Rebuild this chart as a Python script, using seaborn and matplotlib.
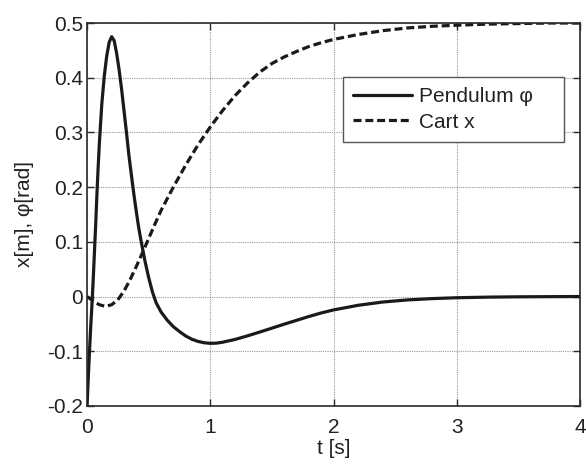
import numpy as np
import pandas as pd
import matplotlib
matplotlib.use("Agg")
import matplotlib.pyplot as plt
import seaborn as sns
from matplotlib.ticker import FixedLocator, FixedFormatter

# ---- data ----
t_pend = [0.00, 0.01, 0.02, 0.03, 0.04, 0.05, 0.06, 0.07, 0.08, 0.09, 0.10, 0.12, 0.14,
          0.16, 0.18, 0.20, 0.22, 0.24, 0.26, 0.28, 0.30, 0.32, 0.34, 0.36, 0.38, 0.40,
          0.42, 0.44, 0.47, 0.50, 0.53, 0.56, 0.60, 0.65, 0.70, 0.75, 0.80, 0.85, 0.90,
          0.95, 1.00, 1.05, 1.10, 1.20, 1.30, 1.40, 1.50, 1.60, 1.70, 1.80, 1.90, 2.00,
          2.20, 2.40, 2.60, 2.80, 3.00, 3.25, 3.50, 3.75, 4.00]
phi = [-0.200, -0.150, -0.100, -0.055, -0.015, 0.030, 0.080, 0.130, 0.185, 0.235, 0.280,
       0.352, 0.403, 0.440, 0.465, 0.475, 0.468, 0.445, 0.415, 0.380, 0.340, 0.300, 0.258,
       0.222, 0.187, 0.155, 0.125, 0.100, 0.065, 0.035, 0.009, -0.011, -0.028, -0.043,
       -0.055, -0.064, -0.072, -0.078, -0.082, -0.0845, -0.0855, -0.0852, -0.0835,
       -0.0785, -0.0720, -0.0650, -0.0578, -0.0505, -0.0435, -0.0365, -0.0300, -0.0245,
       -0.0160, -0.0100, -0.0062, -0.0038, -0.0022, -0.0011, -0.0005, -0.0002, 0.000]

t_cart = [0.00, 0.05, 0.10, 0.15, 0.20, 0.25, 0.30, 0.35, 0.40, 0.45, 0.50, 0.55, 0.60,
          0.70, 0.80, 0.90, 1.00, 1.10, 1.20, 1.30, 1.40, 1.50, 1.60, 1.70, 1.80, 1.90,
          2.00, 2.20, 2.40, 2.60, 2.80, 3.00, 3.25, 3.50, 3.75, 4.00]
cart_x = [0.000, -0.008, -0.015, -0.018, -0.015, -0.006, 0.010, 0.031, 0.055, 0.080,
          0.106, 0.132, 0.157, 0.200, 0.240, 0.277, 0.310, 0.340, 0.367, 0.390, 0.410,
          0.426, 0.438, 0.448, 0.457, 0.464, 0.470, 0.479, 0.486, 0.491, 0.494, 0.496,
          0.498, 0.499, 0.500, 0.500]

series_labels = ["Pendulum \u03c6", "Cart x"]
x_ticks = [0, 1, 2, 3, 4]
x_tick_labels = ["0", "1", "2", "3", "4"]
y_ticks = [-0.2, -0.1, 0.0, 0.1, 0.2, 0.3, 0.4, 0.5]
y_tick_labels = ["-0.2", "-0.1", "0", "0.1", "0.2", "0.3", "0.4", "0.5"]
x_label = "t [s]"
y_label = "x[m], \u03c6[rad]"

# ---- plot ----
sns.set_theme(style="white")
plt.rcParams["font.family"] = ["Liberation Sans", "DejaVu Sans"]
plt.rcParams["axes.unicode_minus"] = False

fs = 15
fig = plt.figure(figsize=(5.86, 4.65), dpi=100)
ax = fig.add_axes([0.1485, 0.127, 0.8413, 0.8235])

df_p = pd.DataFrame({"t": t_pend, "v": phi})
df_c = pd.DataFrame({"t": t_cart, "v": cart_x})
sns.lineplot(data=df_p, x="t", y="v", ax=ax, color="#1a1a1a", lw=2.3,
             label=series_labels[0], sort=False)
sns.lineplot(data=df_c, x="t", y="v", ax=ax, color="#1a1a1a", lw=2.3,
             linestyle=(0, (2.5, 1.2)), label=series_labels[1], sort=False)

ax.set_xlim(0, 4)
ax.set_ylim(-0.2, 0.5)
ax.xaxis.set_major_locator(FixedLocator(x_ticks))
ax.xaxis.set_major_formatter(FixedFormatter(x_tick_labels))
ax.yaxis.set_major_locator(FixedLocator(y_ticks))
ax.yaxis.set_major_formatter(FixedFormatter(y_tick_labels))

ax.grid(True, color="#9a9a9a", linestyle=(0, (1, 1)), linewidth=0.8)
ax.tick_params(direction="in", length=5, width=1, colors="#2a2a2a",
               labelcolor="#222222", labelsize=fs, top=True, right=True,
               bottom=True, left=True)
ax.tick_params(axis="x", pad=9)
ax.tick_params(axis="y", pad=3)
for sp in ax.spines.values():
    sp.set_color("#2a2a2a")
    sp.set_linewidth(1.2)

ax.set_xlabel(x_label, fontsize=fs, color="#222222", labelpad=1)
ax.set_ylabel(y_label, fontsize=fs, color="#222222", labelpad=9)

leg = ax.legend(loc="upper left", bbox_to_anchor=(0.519, 0.684, 0.448, 0.175),
                mode="expand", fontsize=fs, frameon=True, fancybox=False,
                edgecolor="#555555", framealpha=1, handlelength=2.8,
                handletextpad=0.35, borderpad=0.5, labelspacing=0.3,
                borderaxespad=0)
leg.get_frame().set_linewidth(1.0)
for txt in leg.get_texts():
    txt.set_color("#222222")

fig.savefig("out.png", dpi=100, facecolor="white")
